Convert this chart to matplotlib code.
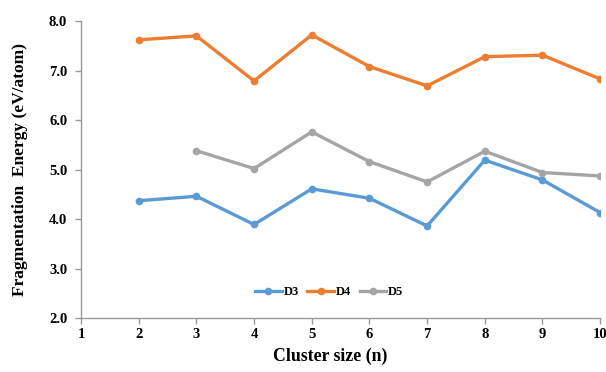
import matplotlib.pyplot as plt

# ==========================================
# data
# ==========================================
n_d3 = [2, 3, 4, 5, 6, 7, 8, 9, 10]
d3 = [4.37, 4.46, 3.89, 4.61, 4.42, 3.86, 5.19, 4.79, 4.13]

n_d4 = [2, 3, 4, 5, 6, 7, 8, 9, 10]
d4 = [7.62, 7.70, 6.79, 7.72, 7.08, 6.69, 7.28, 7.31, 6.83]

n_d5 = [3, 4, 5, 6, 7, 8, 9, 10]
d5 = [5.38, 5.02, 5.76, 5.16, 4.75, 5.37, 4.94, 4.87]

x_ticks = list(range(1, 11))
y_ticks = [2.0, 3.0, 4.0, 5.0, 6.0, 7.0, 8.0]

plt.rcParams['font.family'] = ['Liberation Serif', 'DejaVu Serif']
plt.rcParams['font.weight'] = 'bold'

fig = plt.figure(figsize=(6.06, 3.72), dpi=100)
ax = fig.add_axes([0.1337, 0.145, 0.8567, 0.7985])

ax.plot(n_d3, d3, color='#5B9BD5', lw=2.4, marker='o', ms=4.5, label='D3')
ax.plot(n_d4, d4, color='#ED7D31', lw=2.4, marker='o', ms=4.5, label='D4')
ax.plot(n_d5, d5, color='#A5A5A5', lw=2.4, marker='o', ms=4.5, label='D5')

ax.set_xlim(1, 10)
ax.set_ylim(2.0, 8.0)
ax.set_xticks(x_ticks)
ax.set_yticks(y_ticks)
ax.set_yticklabels([f"{v:.1f}" for v in y_ticks])

for s in ['top', 'right']:
    ax.spines[s].set_visible(False)
for s in ['left', 'bottom']:
    ax.spines[s].set_color('#999999')
    ax.spines[s].set_linewidth(1.0)

ax.tick_params(axis='both', colors='#999999', labelcolor='black', labelsize=10.5,
               length=4, width=1.0, direction='out')
ax.tick_params(axis='y', pad=6)
for lbl in ax.get_xticklabels() + ax.get_yticklabels():
    lbl.set_fontweight('bold')

ax.set_xlabel('Cluster size (n)', fontsize=12.8, fontweight='bold')
ax.set_ylabel('Fragmentation  Energy (eV/atom)', fontsize=12.5, fontweight='bold')
ax.xaxis.set_label_coords(0.48, -0.128)
ax.xaxis.label.set_va('center')
ax.yaxis.set_label_coords(-0.118, 0.5)
ax.yaxis.label.set_va('center')

leg = ax.legend(loc='center', bbox_to_anchor=(0.478, 0.0875), ncol=3, frameon=False,
                fontsize=9, handlelength=2.1, columnspacing=0.7, handletextpad=0.15)
for t in leg.get_texts():
    t.set_fontweight('bold')

fig.savefig('out.png', dpi=100)
